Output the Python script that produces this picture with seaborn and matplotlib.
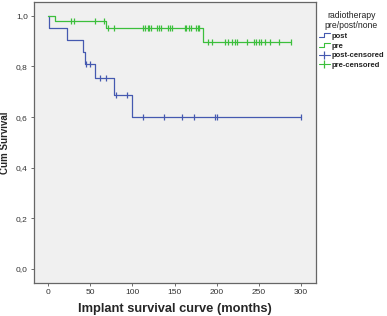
import numpy as np
import pandas as pd
import matplotlib
matplotlib.use("Agg")
import matplotlib.pyplot as plt
import seaborn as sns
from matplotlib.lines import Line2D
from matplotlib.legend_handler import HandlerBase
from matplotlib.ticker import FuncFormatter

# ---- data ----
post_event_times = [0, 0.5, 22, 41.5, 43.5, 55, 78, 99]
post_survival = [1.0, 0.952, 0.905, 0.857, 0.810, 0.756, 0.688, 0.600]
post_censored = [45, 50, 62, 69, 81, 93, 112, 138, 159, 173, 198, 200, 300]

pre_event_times = [0, 7.6, 68, 183.5]
pre_survival = [1.0, 0.979, 0.953, 0.895]
pre_censored = [27, 31, 55, 66, 71, 78, 113, 115, 119, 120, 122, 129, 132, 134,
                142, 145, 147, 162, 164, 167, 169, 176, 178, 179, 190, 194, 210,
                214, 218, 222, 224, 236, 244, 247, 250, 253, 258, 263, 274, 288]

groups = ["post", "pre"]
legend_title = "radiotherapy\npre/post/none"
x_label = "Implant survival curve (months)"
y_label = "Cum Survival"
x_ticks = [0, 50, 100, 150, 200, 250, 300]
y_ticks = [0.0, 0.2, 0.4, 0.6, 0.8, 1.0]

colors = {"post": "#4559b0", "pre": "#3cbf3c"}

sns.set_style("ticks", {"axes.facecolor": "#f0f0f0", "axes.edgecolor": "#555555"})
plt.rcParams["font.family"] = ["Liberation Sans", "DejaVu Sans"]

fig = plt.figure(figsize=(3.87, 3.16), dpi=100)
ax = fig.add_axes([34 / 387, 1 - 282.7 / 316, (315.5 - 34) / 387, (282.7 - 2) / 316])


def step_frame(times, surv, censored):
    t = list(times) + [max(censored)]
    s = list(surv) + [surv[-1]]
    return pd.DataFrame({"time": t, "surv": s})


def censor_frame(times, surv, censored):
    times = np.asarray(times)
    surv = np.asarray(surv)
    idx = np.searchsorted(times, np.asarray(censored), side="right") - 1
    return pd.DataFrame({"time": censored, "surv": surv[idx]})


data = {
    "post": (post_event_times, post_survival, post_censored),
    "pre": (pre_event_times, pre_survival, pre_censored),
}

for g in groups:
    times, surv, cens = data[g]
    sf = step_frame(times, surv, cens)
    sns.lineplot(data=sf, x="time", y="surv", ax=ax, color=colors[g],
                 drawstyle="steps-post", estimator=None, sort=False,
                 linewidth=0.9, legend=False)
    cf = censor_frame(times, surv, cens)
    sns.scatterplot(data=cf, x="time", y="surv", ax=ax, marker="|",
                    s=22, linewidth=0.9, color=colors[g], legend=False, zorder=3)

ax.set_xlim(-17, 317.5)
ax.set_ylim(-0.055, 1.055)
ax.set_xticks(x_ticks)
ax.set_yticks(y_ticks)
ax.yaxis.set_major_formatter(FuncFormatter(lambda v, p: f"{v:.1f}".replace(".", ",")))
ax.tick_params(axis="both", labelsize=6, colors="#555555", labelcolor="#333333",
               length=2.5, width=0.6, pad=2)
for sp in ax.spines.values():
    sp.set_visible(True)
    sp.set_linewidth(0.9)
    sp.set_color("#666666")

ax.set_xlabel(x_label, fontsize=9.3, fontweight="bold", labelpad=5)
ax.set_ylabel(y_label, fontsize=7, fontweight="bold", labelpad=4)


class StepHandler(HandlerBase):
    def create_artists(self, legend, orig_handle, xdescent, ydescent, width,
                       height, fontsize, trans):
        w = width
        xs = [0, w * 0.45, w * 0.45, w]
        ys = [height * 0.1, height * 0.1, height * 0.8, height * 0.8]
        ln = Line2D(xs, ys, color=orig_handle.get_color(), lw=0.8)
        ln.set_transform(trans)
        return [ln]


class CensorHandler(HandlerBase):
    def create_artists(self, legend, orig_handle, xdescent, ydescent, width,
                       height, fontsize, trans):
        w = width
        ln = Line2D([0, w], [height / 2, height / 2], color=orig_handle.get_color(), lw=0.8)
        mk = Line2D([w / 2], [height / 2], color=orig_handle.get_color(),
                    marker="|", markersize=6, mew=0.9, linestyle="none")
        ln.set_transform(trans)
        mk.set_transform(trans)
        return [ln, mk]


h_post = Line2D([], [], color=colors["post"])
h_pre = Line2D([], [], color=colors["pre"])
h_postc = Line2D([], [], color=colors["post"], marker="|")
h_prec = Line2D([], [], color=colors["pre"], marker="|")

step_h = StepHandler()
cens_h = CensorHandler()
leg = fig.legend([h_post, h_pre, h_postc, h_prec],
                 ["post", "pre", "post-censored", "pre-censored"],
                 title=legend_title, loc="upper left",
                 bbox_to_anchor=(317 / 387, 1 - 9 / 316),
                 frameon=False, fontsize=5.5, title_fontsize=6.2,
                 handlelength=1.5, handletextpad=0.2, labelspacing=0.32,
                 borderpad=0.2, borderaxespad=0,
                 handler_map={h_post: step_h, h_pre: step_h,
                              h_postc: cens_h, h_prec: cens_h})
leg.get_title().set_multialignment("center")
leg.get_title().set_color("#222222")
for t in leg.get_texts():
    t.set_fontweight("bold")
    t.set_color("#222222")

fig.savefig("out.png", dpi=100, facecolor="white")
